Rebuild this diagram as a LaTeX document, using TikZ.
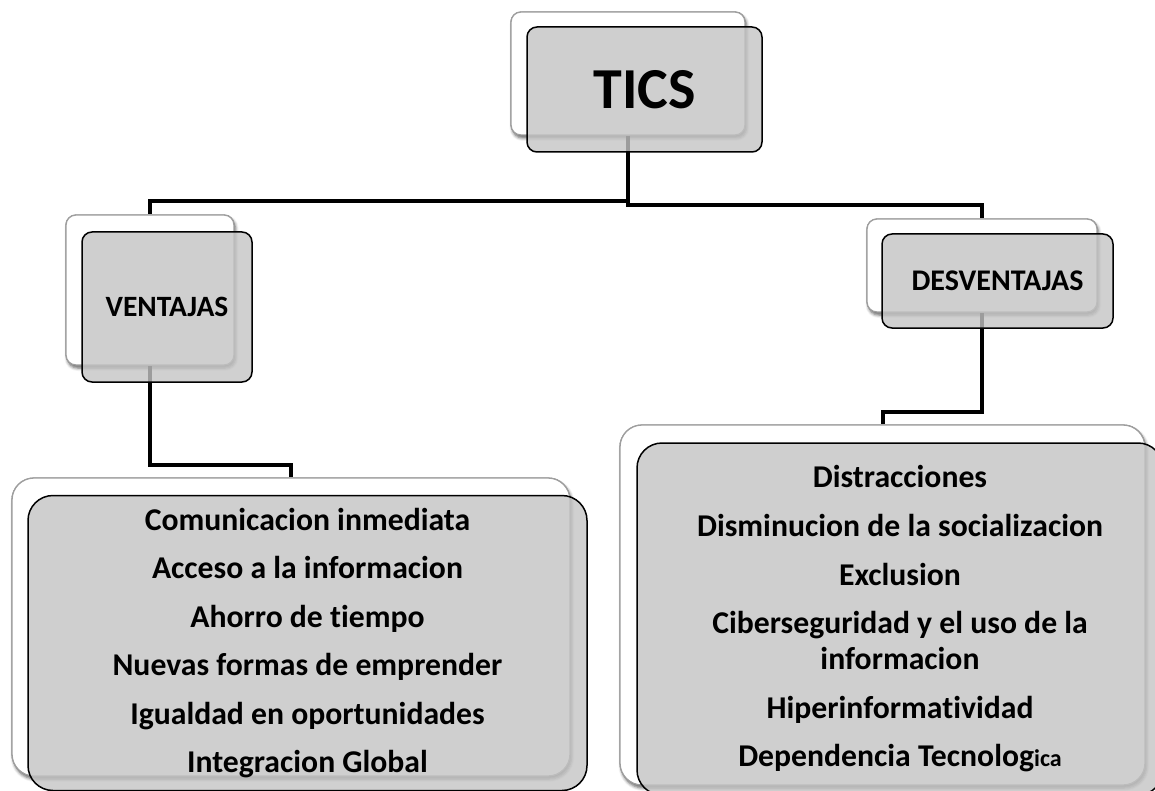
\documentclass[tikz,border=0pt]{standalone}
\usepackage{fontspec}
\setmainfont{Carlito}[Ligatures={NoCommon}]
\usetikzlibrary{shadows.blur}
\definecolor{frontgray}{gray}{0.77}
\definecolor{backedge}{gray}{0.62}
\tikzset{
  conn/.style={line width=4pt, black, line join=miter},
  backbox/.style={draw=backedge, line width=1.3pt, fill=white, rounded corners=#1,
    blur shadow={shadow xshift=1.5pt, shadow yshift=-3pt, shadow blur radius=3pt, shadow opacity=35}},
  frontbox/.style={draw=black, line width=1.5pt, fill=frontgray, fill opacity=0.8, text opacity=1,
    rounded corners=#1, align=center, inner sep=0pt, font=\bfseries},
}
\begin{document}
\begin{tikzpicture}[x=1pt, y=-1pt]
\useasboundingbox (0,0) rectangle (1155,791);
\clip (0,0) rectangle (1155,791);
% back boxes (named for connectors)
\node[backbox=10pt, minimum width=234pt, minimum height=123pt] (ticsB) at (628,73.5) {};
\node[backbox=10pt, minimum width=168pt, minimum height=150pt] (ventB) at (150,290) {};
\node[backbox=10pt, minimum width=230pt, minimum height=93pt] (desvB) at (982,265.5) {};
\node[backbox=22pt, minimum width=558pt, minimum height=298pt] (listaB) at (291,627) {};
\node[backbox=22pt, minimum width=525pt, minimum height=360pt] (listbB) at (882.5,605) {};
% connectors
\coordinate (jl) at (628,201);
\coordinate (jr) at (628,205);
\coordinate (jv) at (150,465);
\coordinate (jd) at (982,412);
\draw[conn] (ticsB.south) -- (ticsB.south |- jl) -| (ventB.north);
\draw[conn] (ticsB.south) -- (ticsB.south |- jr) -| (desvB.north);
\draw[conn] (ventB.south) -- (ventB.south |- jv) -| (listaB.north);
\draw[conn] (desvB.south) -- (desvB.south |- jd) -| (listbB.north);
% back boxes again, over the connectors
\node[backbox=10pt, minimum width=234pt, minimum height=123pt] at (628,73.5) {};
\node[backbox=10pt, minimum width=168pt, minimum height=150pt] at (150,290) {};
\node[backbox=10pt, minimum width=230pt, minimum height=93pt] at (982,265.5) {};
\node[backbox=22pt, minimum width=558pt, minimum height=298pt] at (291,627) {};
\node[backbox=22pt, minimum width=525pt, minimum height=360pt] at (882.5,605) {};
% front boxes
\node[frontbox=10pt, minimum width=235pt, minimum height=125pt, font=\bfseries\fontsize{58}{62}\selectfont] (tics) at (644.5,89.5) {TICS};
\node[frontbox=10pt, minimum width=170pt, minimum height=150pt, font=\bfseries\fontsize{29.5}{34}\selectfont] (vent) at (167,307) {VENTAJAS};
\node[frontbox=10pt, minimum width=231pt, minimum height=94pt, font=\bfseries\fontsize{30}{34}\selectfont] (desv) at (997.5,281) {DESVENTAJAS};
\node[frontbox=25pt, minimum width=559pt, minimum height=295pt, font=\bfseries\fontsize{31.7}{36}\selectfont] (lista) at (307.5,643)
  {Comunicacion inmediata\\[12.4pt]Acceso a la informacion\\[12.4pt]Ahorro de tiempo\\[12.4pt]Nuevas formas de emprender\\[12.4pt]Igualdad en oportunidades\\[12.4pt]Integracion Global};
\node[frontbox=25pt, minimum width=526pt, minimum height=352pt, font=\bfseries\fontsize{31.7}{36}\selectfont] (listb) at (900,619)
  {Distracciones\\[12.6pt]Disminucion de la socializacion\\[12.6pt]Exclusion\\[12.6pt]Ciberseguridad y el uso de la\\informacion\\[12.6pt]Hiperinformatividad\\[12.6pt]Dependencia Tecnolog{\fontsize{24}{36}\selectfont ica}};
\end{tikzpicture}
\end{document}
